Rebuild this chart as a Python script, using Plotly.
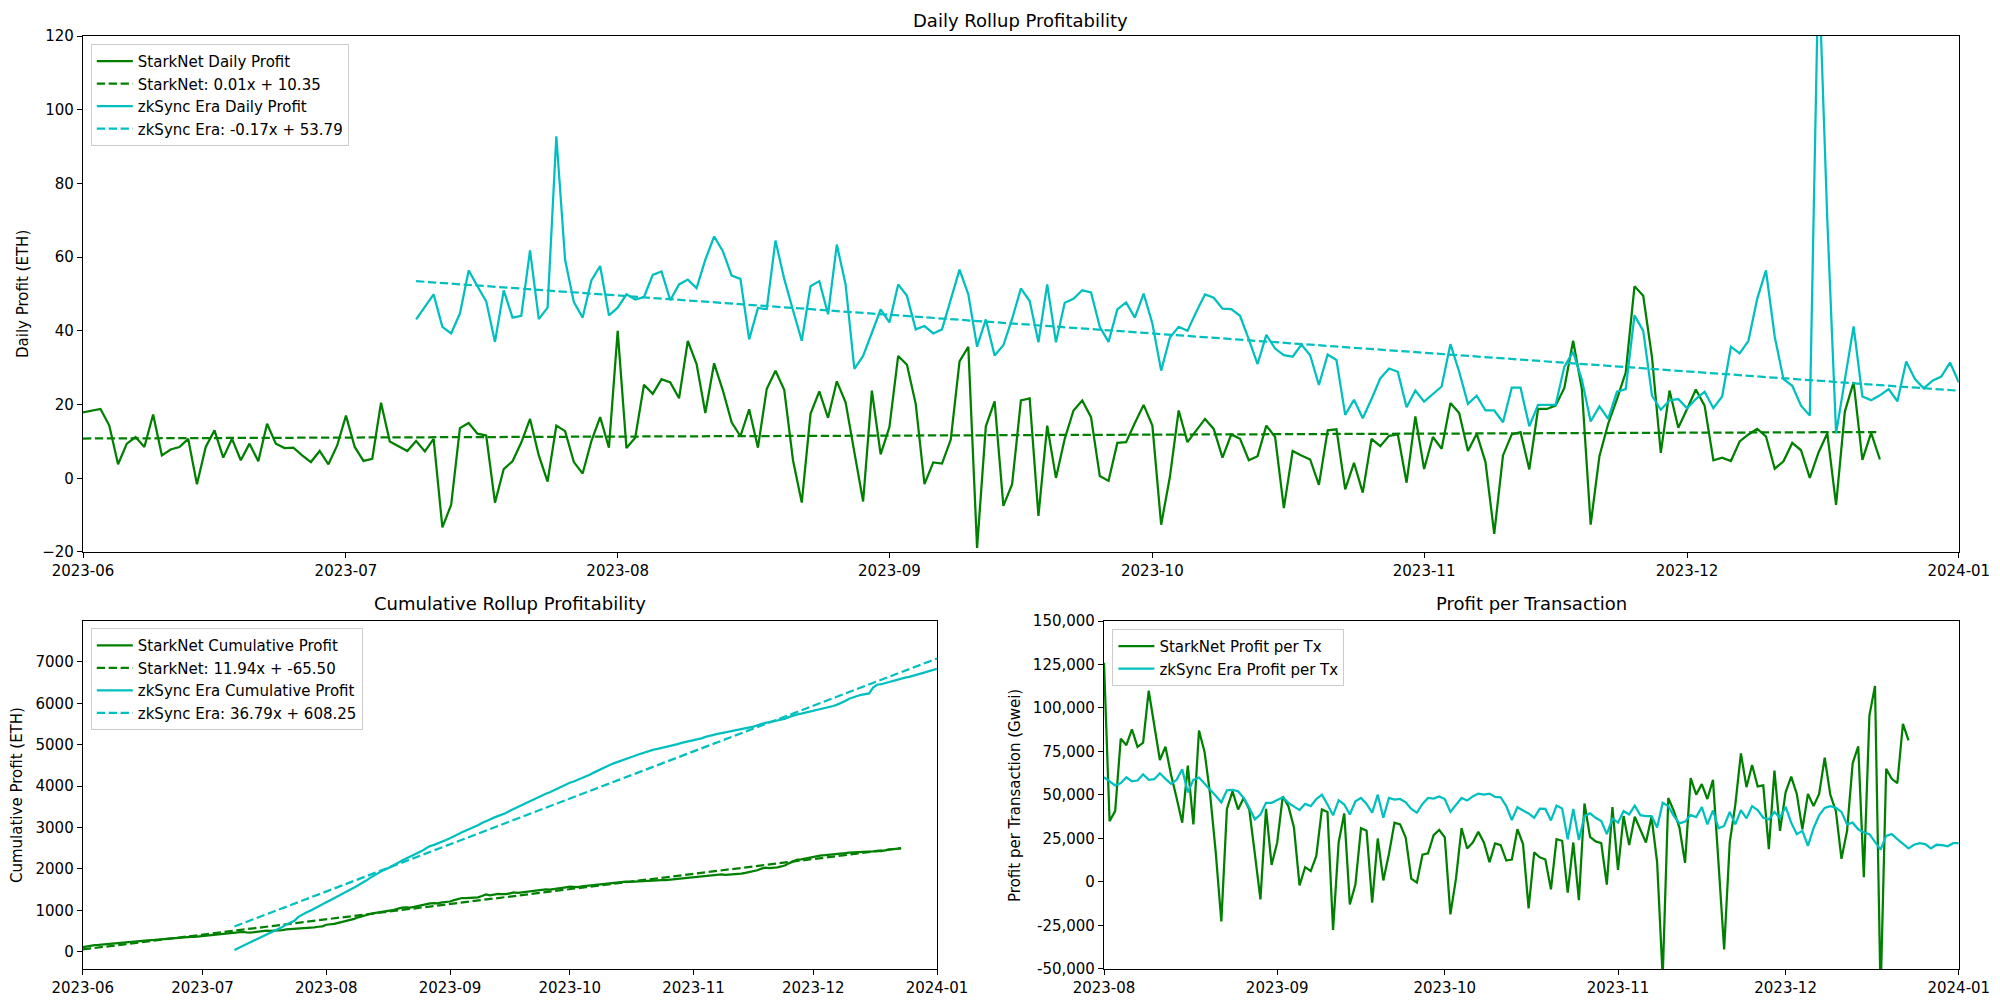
import numpy as np
import pandas as pd
import plotly.graph_objects as go

# ---------------- data ----------------
starknet_daily_start = "2023-06-01"
starknet_daily = [
    17.9, 18.4, 18.8, 14.3, 3.8, 9.4, 11.2, 8.5, 17.3, 6.2, 7.8, 8.5, 10.7, -1.6, 8.5, 13.0, 5.6, 10.7, 4.9, 9.4,
    4.6, 14.8, 9.4, 8.2, 8.3, 6.2, 4.4, 7.4, 3.8, 8.9, 17.0, 8.5, 4.7, 5.3, 20.5, 10.0, 8.7,
    7.4, 10.1, 7.3, 10.7, -13.3, -7.2, 13.6, 15.0, 12.1, 11.6, -6.6, 2.5, 4.6, 9.7, 16.1, 6.2, -0.9, 14.3, 12.8, 4.4,
    1.3, 10.1, 16.6, 8.3, 40.0, 8.2, 11.0, 25.4, 22.9, 26.9, 26.0, 21.7, 37.3, 31.0, 17.7,
    31.2, 23.8, 15.2, 11.4, 18.7, 8.3, 24.2, 29.2, 24.0, 4.9, -6.6, 17.5, 23.6, 16.4, 26.3, 20.6, 7.1, -6.3, 23.8, 6.5,
    13.9, 33.2, 30.8, 20.2, -1.6, 4.3, 4.0, 10.5, 31.7, 35.7, -18.9, 14.1, 20.9, -7.5, -1.6, 21.1,
    21.7, -10.2, 14.3, 0.1, 10.7, 18.4, 21.1, 16.6, 0.6, -0.7, 9.6, 9.8, 15.0, 19.9, 14.3, -12.6, 0.4, 18.4, 9.8, 13.0,
    16.1, 13.4, 5.6, 11.9, 10.7, 4.9, 6.0, 14.3, 11.2, -8.1, 7.4, 6.2, 5.1, -1.8, 13.0,
    13.3, -3.0, 4.2, -3.9, 10.7, 8.7, 11.5, 11.9, -1.2, 16.8, 2.5, 11.2, 8.0, 20.4, 17.7, 7.4, 12.1, 4.4, -15.1, 6.2,
    11.9, 12.5, 2.4, 18.8, 18.8, 19.7, 24.5, 37.3, 24.2, -12.6, 6.0, 14.8, 21.5, 28.7, 52.1, 49.5,
    32.8, 6.9, 23.8, 13.7, 18.8, 24.1, 19.7, 4.9, 5.6, 4.7, 10.0, 11.9, 13.4, 11.4, 2.6, 4.6, 9.6, 7.6, 0.1, 7.0,
    12.2, -7.2, 18.1, 26.1, 5.0, 12.3, 5.1,
]

zksync_daily_start = "2023-07-09"
zksync_daily = [
    43.1, 46.5, 49.9, 41.1, 39.3, 44.7, 56.4, 52.1, 48.0, 37.0, 51.0, 43.6, 44.1, 61.8, 43.2, 46.3, 92.8, 59.3, 47.8, 43.6,
    53.7, 57.6, 44.2, 46.3, 49.9, 48.5, 49.2, 55.2, 56.1, 48.3, 52.6, 53.9, 51.6, 59.3,
    65.6, 61.6, 55.0, 54.1, 37.7, 46.2, 45.9, 64.5, 54.1, 45.6, 37.3, 52.1, 53.5, 44.5, 63.4, 52.6, 29.7, 33.2, 39.5, 45.8,
    42.3, 52.6, 49.5, 40.4, 41.3, 39.3, 40.4, 48.3, 56.6, 49.9, 35.7, 43.1, 33.3, 36.1, 43.3, 51.5,
    48.1, 36.9, 52.6, 36.9, 47.6, 48.7, 51.0, 50.4, 41.1, 37.0, 45.8, 47.7, 43.6, 50.1, 42.0, 29.2, 38.2, 41.1, 40.0, 45.1,
    49.9, 49.0, 46.0, 45.9, 44.1, 37.7, 31.0, 38.9, 35.2, 33.4, 33.0, 36.3, 33.4, 25.3, 33.6,
    32.1, 17.2, 21.3, 16.3, 21.5, 27.1, 29.8, 28.9, 19.3, 23.8, 20.8, 22.8, 24.9, 36.4, 28.9, 20.2, 22.4, 18.4, 18.4, 15.2,
    24.6, 24.6, 14.1, 19.9, 19.9, 19.9, 30.3, 34.3, 26.7, 15.4, 19.5, 16.1, 23.5, 24.2, 44.2, 40.0,
    22.4, 18.6, 21.1, 21.5, 19.0, 21.5, 23.5, 19.0, 22.2, 35.7, 33.9, 37.3, 48.7, 56.4, 38.4, 26.9, 25.1, 19.7, 17.0, 140.0,
    70.0, 12.2, 26.7, 41.2, 22.2, 21.2, 22.5, 24.2, 20.9, 31.7, 26.9, 24.4, 26.5, 27.6, 31.4, 26.0,
]

# cumulative StarkNet profit accrued before 2023-06-01
starknet_cum_offset = 90.0

# linear-fit coefficients printed in the cumulative legend, and the day each fit counts x from
starknet_cum_fit = [11.94, -65.50]
zksync_cum_fit = [36.79, 608.25]
starknet_fit_origin = "2023-05-22"
zksync_fit_origin = "2023-07-09"

per_tx_start = "2023-08-01"
starknet_per_tx = [
    126000, 35000, 40700, 82400, 78600, 87700, 77700, 80100, 109900, 90900,
    70100, 77700, 61600, 48300, 34100, 66900, 33100, 87100, 74800, 50200,
    17000, -22700, 42000, 52100, 41700, 48300, 41700, 16100, -10000, 42000,
    9800, 22700, 49200, 43600, 31300, -1900, 8500, 6300, 15000, 41700,
    40200, -27500, 22700, 39400, -12900, -1500, 30900, 29400, -11900, 25000,
    900, 16100, 34100, 33100, 25600, 1900, -400, 15700, 16500, 26900,
    29900, 25600, -18600, 1900, 30900, 19300, 22700, 28800, 22700, 11400,
    22200, 21200, 12300, 12900, 30300, 21800, -15200, 17000,
    14200, 12900, -4200, 24600, 23700, -6100, 22700, -10400, 45100, 25900,
    23300, 22300, -1500, 43000, 7000, 37900, 21200, 37500, 30300, 22700,
    37500, 11400, -55000, 48300, 40700, 31300, 11000, 59700, 50200, 56300,
    47700, 58700, 10400, -38800, 22700, 44500, 73900, 54500,
    67200, 54900, 55500, 18900, 64000, 29400, 51500, 60600, 50600, 30300,
    50600, 43600, 50600, 71400, 50200, 40700, 13300, 29400, 68200, 78000,
    2800, 95600, 112700, -65000, 65000, 59300, 56800, 90900, 81400,
]
zksync_per_tx = [
    60200, 57800, 55500, 56800, 60200, 57800, 58300, 61900, 58700, 59100,
    62500, 59300, 56400, 58700, 64800, 51500, 58700, 60000, 56800, 53000,
    49600, 45800, 52700, 53000, 52100, 48300, 42600, 36000, 38800, 45500,
    45500, 47000, 48700, 45500, 43200, 41300, 44900, 43600, 47700, 50200,
    44500, 38300, 47000, 44500, 38800, 46400, 48300, 44900, 39800, 50200,
    36900, 48300, 47400, 47700, 45800, 42000, 39800, 44900, 48300, 47900,
    49200, 47700, 40300, 44500, 48300, 46800, 49200, 50800, 50200, 50800,
    48900, 48700, 43600, 35600, 43000, 41100, 39400, 36900,
    42200, 42000, 35400, 43900, 42200, 24600, 42000, 24100, 37900, 39400,
    36900, 35000, 27500, 36400, 34100, 40700, 38800, 43900, 38400, 37900,
    37900, 31300, 45500, 43600, 37900, 33700, 34700, 38400, 37300, 43000,
    33100, 41100, 30900, 32200, 40200, 33100, 41300, 36600,
    43600, 41300, 36900, 36000, 40200, 36900, 43200, 34100, 27500, 29400,
    20800, 30900, 38300, 42600, 43600, 42600, 40300, 33100, 34100, 30300,
    28400, 27500, 23100, 18600, 26500, 27500, 24600, 22200, 19300, 21400,
    22300, 21800, 19300, 21400, 21200, 20500, 22300, 22300,
]

legend_daily = ["StarkNet Daily Profit", "StarkNet: 0.01x + 10.35",
                "zkSync Era Daily Profit", "zkSync Era: -0.17x + 53.79"]
legend_cum = ["StarkNet Cumulative Profit", "StarkNet: 11.94x + -65.50",
              "zkSync Era Cumulative Profit", "zkSync Era: 36.79x + 608.25"]
legend_tx = ["StarkNet Profit per Tx", "zkSync Era Profit per Tx"]
per_tx_ticks = [-50000, -25000, 0, 25000, 50000, 75000, 100000, 125000, 150000]
per_tx_ticktext = ["-50,000", "-25,000", "0", "25,000", "50,000", "75,000",
                   "100,000", "125,000", "150,000"]

# ---------------- derived ----------------
sn_dates = pd.date_range(starknet_daily_start, periods=len(starknet_daily), freq="D")
zk_dates = pd.date_range(zksync_daily_start, periods=len(zksync_daily), freq="D")
sn_tx_dates = pd.date_range(per_tx_start, periods=len(starknet_per_tx), freq="D")
zk_tx_dates = pd.date_range(per_tx_start, periods=len(zksync_per_tx), freq="D")

sn_d = np.array(starknet_daily)
zk_d = np.array(zksync_daily)
sn_cum = starknet_cum_offset + np.cumsum(sn_d)
zk_cum = np.cumsum(zk_d)


def trend(vals):
    x = np.arange(len(vals))
    a, b = np.polyfit(x, vals, 1)
    return a * x + b


def coef_line(dates, origin, coefs):
    x = (dates - pd.Timestamp(origin)).days.values.astype(float)
    return coefs[0] * x + coefs[1]


GREEN = "#008000"
CYAN = "#00BFBF"
FONT = "DejaVu Sans"
FS = 15
LW = 2.25
DASH = "8.3px,3.6px"

fig = go.Figure()


def add(x, y, name, color, dash, xa, ya, leg):
    fig.add_trace(go.Scatter(
        x=x, y=y, mode="lines", name=name,
        line=dict(color=color, width=LW, dash=dash),
        xaxis=xa, yaxis=ya, legend=leg, hoverinfo="skip"))


add(sn_dates, sn_d, legend_daily[0], GREEN, "solid", "x", "y", "legend")
add(sn_dates, trend(sn_d), legend_daily[1], GREEN, DASH, "x", "y", "legend")
add(zk_dates, zk_d, legend_daily[2], CYAN, "solid", "x", "y", "legend")
add(zk_dates, trend(zk_d), legend_daily[3], CYAN, DASH, "x", "y", "legend")

add(sn_dates, sn_cum, legend_cum[0], GREEN, "solid", "x2", "y2", "legend2")
add(sn_dates, coef_line(sn_dates, starknet_fit_origin, starknet_cum_fit),
    legend_cum[1], GREEN, DASH, "x2", "y2", "legend2")
add(zk_dates, zk_cum, legend_cum[2], CYAN, "solid", "x2", "y2", "legend2")
add(zk_dates, coef_line(zk_dates, zksync_fit_origin, zksync_cum_fit),
    legend_cum[3], CYAN, DASH, "x2", "y2", "legend2")

add(sn_tx_dates, starknet_per_tx, legend_tx[0], GREEN, "solid", "x3", "y3", "legend3")
add(zk_tx_dates, zksync_per_tx, legend_tx[1], CYAN, "solid", "x3", "y3", "legend3")

TICKFONT = dict(family=FONT, size=FS, color="black")
common = dict(showgrid=False, zeroline=False, showline=True, mirror=True,
              linecolor="black", linewidth=1.2, ticks="outside", ticklen=5,
              tickwidth=1.2, tickcolor="black", tickfont=TICKFONT, automargin=False)

X_TOP = [0.0415, 0.9794]
X_BL = [0.0414, 0.4685]
X_BR = [0.5520, 0.9794]
Y_TOP = [0.4513, 0.9642]
Y_BOT = [0.0368, 0.3827]

fig.update_layout(
    width=2000, height=1006, autosize=False,
    margin=dict(l=0, r=0, t=0, b=0, pad=0),
    paper_bgcolor="white", plot_bgcolor="white",
    font=dict(family=FONT, size=FS, color="black"),
    xaxis=dict(domain=X_TOP, anchor="y", range=["2023-06-01", "2024-01-01"],
               dtick="M1", tickformat="%Y-%m", **common),
    yaxis=dict(domain=Y_TOP, anchor="x", range=[-20, 120], dtick=20, **common),
    xaxis2=dict(domain=X_BL, anchor="y2", range=["2023-06-01", "2024-01-01"],
                dtick="M1", tickformat="%Y-%m", **common),
    yaxis2=dict(domain=Y_BOT, anchor="x2", range=[-418, 7990],
                tickvals=list(range(0, 7001, 1000)), **common),
    xaxis3=dict(domain=X_BR, anchor="y3", range=["2023-08-01", "2024-01-01"],
                dtick="M1", tickformat="%Y-%m", **common),
    yaxis3=dict(domain=Y_BOT, anchor="x3", range=[-50000, 150000],
                tickvals=per_tx_ticks, ticktext=per_tx_ticktext, **common),
    showlegend=True,
)

legend_common = dict(xanchor="left", yanchor="top", bgcolor="rgba(255,255,255,0.8)",
                     bordercolor="#cccccc", borderwidth=1,
                     font=dict(family=FONT, size=FS, color="black"),
                     traceorder="normal", itemwidth=36)
fig.update_layout(
    legend=dict(x=0.0454, y=0.9563, **legend_common),
    legend2=dict(x=0.0454, y=0.3755, **legend_common),
    legend3=dict(x=0.5562, y=0.3748, **legend_common),
)

TITLEFONT = dict(family=FONT, size=18, color="black")
titles = [
    ("Daily Rollup Profitability", sum(X_TOP) / 2, 1 - 20 / 1006),
    ("Cumulative Rollup Profitability", sum(X_BL) / 2, 1 - 603 / 1006),
    ("Profit per Transaction", sum(X_BR) / 2, 1 - 603 / 1006),
]
for text, x, y in titles:
    fig.add_annotation(text=text, x=x, y=y, xref="paper", yref="paper",
                       xanchor="center", yanchor="middle", showarrow=False,
                       font=TITLEFONT)

ytitles = [
    ("Daily Profit (ETH)", 23 / 2000, sum(Y_TOP) / 2),
    ("Cumulative Profit (ETH)", 17 / 2000, sum(Y_BOT) / 2),
    ("Profit per Transaction (Gwei)", 1015 / 2000, sum(Y_BOT) / 2),
]
for text, x, y in ytitles:
    fig.add_annotation(text=text, x=x, y=y, xref="paper", yref="paper",
                       xanchor="center", yanchor="middle", showarrow=False,
                       textangle=-90, font=dict(family=FONT, size=FS, color="black"))

fig.write_html("out.html", config={"displayModeBar": False},
               post_script="document.body.style.margin='0px';")
